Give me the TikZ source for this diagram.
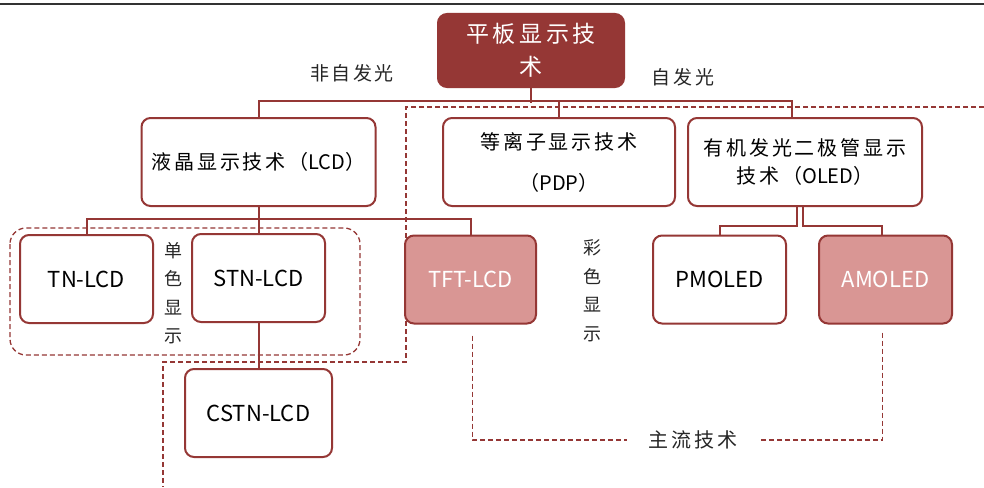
\documentclass[tikz,border=0pt]{standalone}
\usepackage{fontspec}
\newfontfamily\cjk[LetterSpace=14]{Noto Sans CJK SC}
\newfontfamily\cjkr[LetterSpace=16]{Noto Sans CJK SC}
\newfontfamily\lat{Noto Sans CJK SC}
\definecolor{dred}{HTML}{953735}
\definecolor{pinkf}{HTML}{D99694}
\begin{document}
\begin{tikzpicture}[x=1pt,y=-1pt,
  box/.style={draw=dred, line width=2pt, rounded corners=9pt, fill=white, inner sep=0pt, align=center},
  bigbox/.style={box, minimum width=234pt, minimum height=88pt, font=\cjk\fontsize{20}{24}\selectfont},
  smallbox/.style={box, minimum width=133pt, minimum height=88pt, font=\lat\fontsize{22}{26}\selectfont},
  hot/.style={fill=pinkf, text=white},
  conn/.style={draw=dred, line width=2pt},
  dsh/.style={draw=dred, line width=1.3pt, dash pattern=on 5pt off 3pt},
  lbl/.style={inner sep=0pt, align=center, text=black!85, font=\cjk\fontsize{19}{23}\selectfont},
  vlbl/.style={inner sep=0pt, align=center, text=black!85, font=\cjk\fontsize{18}{28.5}\selectfont}
]
\useasboundingbox (0,0) rectangle (984,487);
\fill[white] (0,0) rectangle (984,487);
\draw[line width=1.5pt, black!80] (0,4) -- (984,4);

% dashed region outlines
\draw[dsh] (984,107) -- (406,107) -- (406,362) -- (163,362) -- (163,487);
\draw[dsh, rounded corners=16pt] (10,228) rectangle (360,355);

% nodes
\node[box, fill=dred, text=white, minimum width=186pt, minimum height=73pt,
      font=\cjkr\fontsize{23}{33}\selectfont] (root) at (531,50.5) {平板显示技\\术};
\node[bigbox] (lcd) at (258.5,162) {液晶显示技术（{\lat LCD}）};
\node[bigbox, minimum width=232pt, font=\cjk\fontsize{20}{41}\selectfont] (pdp) at (559,162) {等离子显示技术\\（{\lat PDP}）};
\node[bigbox, font=\cjk\fontsize{20}{28}\selectfont] (oled) at (805,162) {有机发光二极管显示\\技术（{\lat OLED}）};

\node[smallbox] (tn) at (86.5,279) {TN-LCD};
\node[smallbox] (stn) at (258.5,278) {STN-LCD};
\node[smallbox, hot, minimum width=131pt] (tft) at (470.5,279.5) {TFT-LCD};
\node[smallbox, minimum width=147pt] (cstn) at (258.5,413) {CSTN-LCD};
\node[smallbox] (pm) at (719.5,279.5) {PMOLED};
\node[smallbox, hot] (am) at (885.5,279.5) {AMOLED};

% labels
\node[lbl] (nz) at (352,73) {非自发光};
\node[lbl] (zf) at (683,77) {自发光};
\node[vlbl] (dsx) at (173,293) {单\\色\\显\\示};
\node[vlbl] (csx) at (592,291) {彩\\色\\显\\示};
\node[lbl, inner xsep=22pt, font=\cjk\fontsize{20}{24}\selectfont] (zl) at (693,440) {主流技术};

% connectors
\draw[conn] (root.south) -- ++(0,15);
\draw[conn] (lcd.north) -- ++(0,-16) -| ([xshift=-13pt]oled.north);
\draw[conn] (pdp.north) -- ++(0,-16);

\draw[conn] (lcd.south) -- ++(0,14);
\draw[conn] (tn.north) -- ++(0,-15) -| (tft.north);
\draw[conn] (stn.north) -- ++(0,-14);
\draw[conn] (stn.south) -- (cstn.north);

\draw[conn] ([xshift=-8pt]oled.south) -- ++(0,19) -| (pm.north);
\draw[conn] ([xshift=-2pt]oled.south) -- ++(0,19) -| ([xshift=-4pt]am.north);

% mainstream dashed
\draw[dsh] ([xshift=2pt,yshift=-11pt]tft.south) |- (zl.west);
\draw[dsh] ([xshift=-3pt,yshift=-8pt]am.south) |- (zl.east);
\end{tikzpicture}
\end{document}
